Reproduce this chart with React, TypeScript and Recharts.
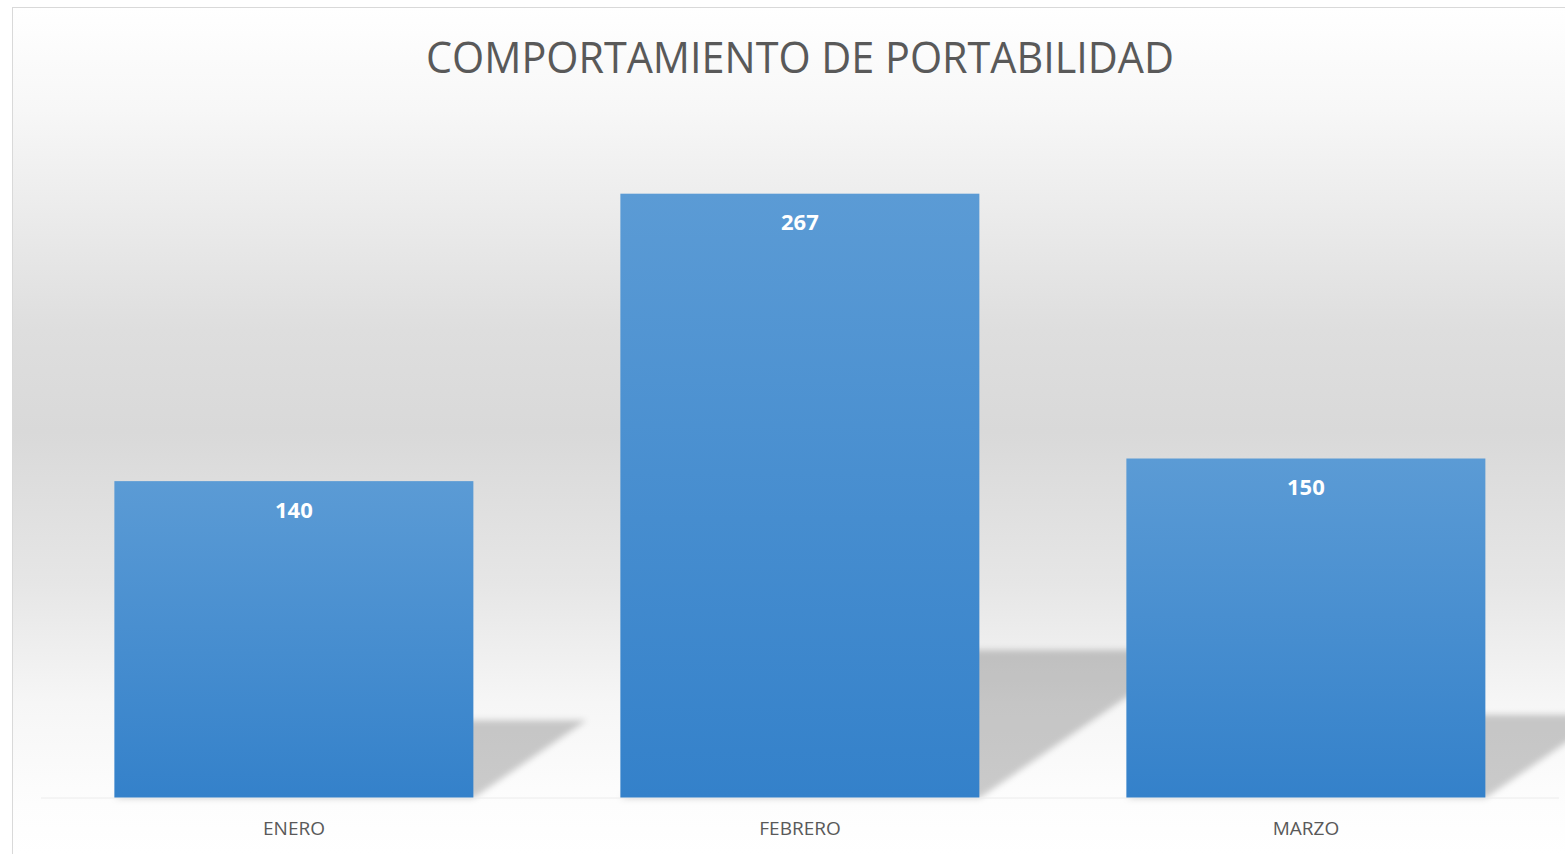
import React from "react";
import { BarChart, Bar, XAxis, YAxis, LabelList } from "recharts";

const months = ["ENERO", "FEBRERO", "MARZO"];
const portabilidad = [140, 267, 150];
const title = "COMPORTAMIENTO DE PORTABILIDAD";

const data = months.map((m, i) => ({ mes: m, valor: portabilidad[i] }));

const FONT = "'Open Sans', 'Noto Sans', sans-serif";

// bar with a slanted drop shadow behind it
const ShadowBar = (props: any) => {
  const { x, y, width, height } = props;
  if (!height || height <= 0) return null;
  const base = y + height;
  const sh = height * 0.245;
  const shift = sh * 1.46;
  const pts = [
    [x, base],
    [x + width, base],
    [x + width + shift, base - sh],
    [x + shift, base - sh],
  ]
    .map((p) => p.join(","))
    .join(" ");
  return (
    <g>
      <polygon points={pts} fill="#000" fillOpacity={0.2} filter="url(#barShadow)" />
      <rect x={x} y={y} width={width} height={height} fill="url(#barFill)" />
    </g>
  );
};

export default function App() {
  return (
    <div
      style={{
        position: "absolute",
        left: 12,
        top: 7,
        width: 1553,
        height: 847,
        borderTop: "1px solid #d9d9d9",
        borderLeft: "1px solid #d9d9d9",
        background:
          "linear-gradient(to bottom, #ffffff 0%, #f7f7f7 12%, #dedede 38%, #d9d9d9 50%, #e6e6e6 68%, #f6f6f6 82%, #fdfdfd 94%, #ffffff 100%)",
        overflow: "hidden",
      }}
    >
      <svg
        width={1552}
        height={100}
        style={{ position: "absolute", left: 0, top: 0 }}
      >
        <text
          x={787}
          y={65}
          textAnchor="middle"
          fontFamily={FONT}
          fontSize={44}
          fill="#595959"
          textLength={748}
          lengthAdjust="spacingAndGlyphs"
        >
          {title}
        </text>
      </svg>
      <BarChart
        width={1552}
        height={847}
        data={data}
        margin={{ top: 111, right: 6, left: 28, bottom: 0 }}
        barCategoryGap="14.5%"
        style={{ position: "absolute", left: 0, top: 0 }}
      >
        <defs>
          <linearGradient id="barFill" x1="0" y1="0" x2="0" y2="1">
            <stop offset="0%" stopColor="#5b9bd5" />
            <stop offset="100%" stopColor="#3481ca" />
          </linearGradient>
          <filter id="barShadow" x="-20%" y="-40%" width="140%" height="180%">
            <feGaussianBlur stdDeviation="3" />
          </filter>
        </defs>
        <XAxis
          dataKey="mes"
          height={57}
          tickLine={false}
          axisLine={{ stroke: "#ececec" }}
          tick={{ fill: "#595959", fontSize: 19, fontFamily: FONT }}
          tickMargin={18}
        />
        <YAxis hide domain={[0, 300]} />
        <Bar dataKey="valor" shape={<ShadowBar />} isAnimationActive={false}>
          <LabelList
            dataKey="valor"
            position="insideTop"
            offset={21}
            fill="#ffffff"
            fontSize={22}
            fontWeight={700}
            fontFamily={FONT}
          />
        </Bar>
      </BarChart>
    </div>
  );
}
